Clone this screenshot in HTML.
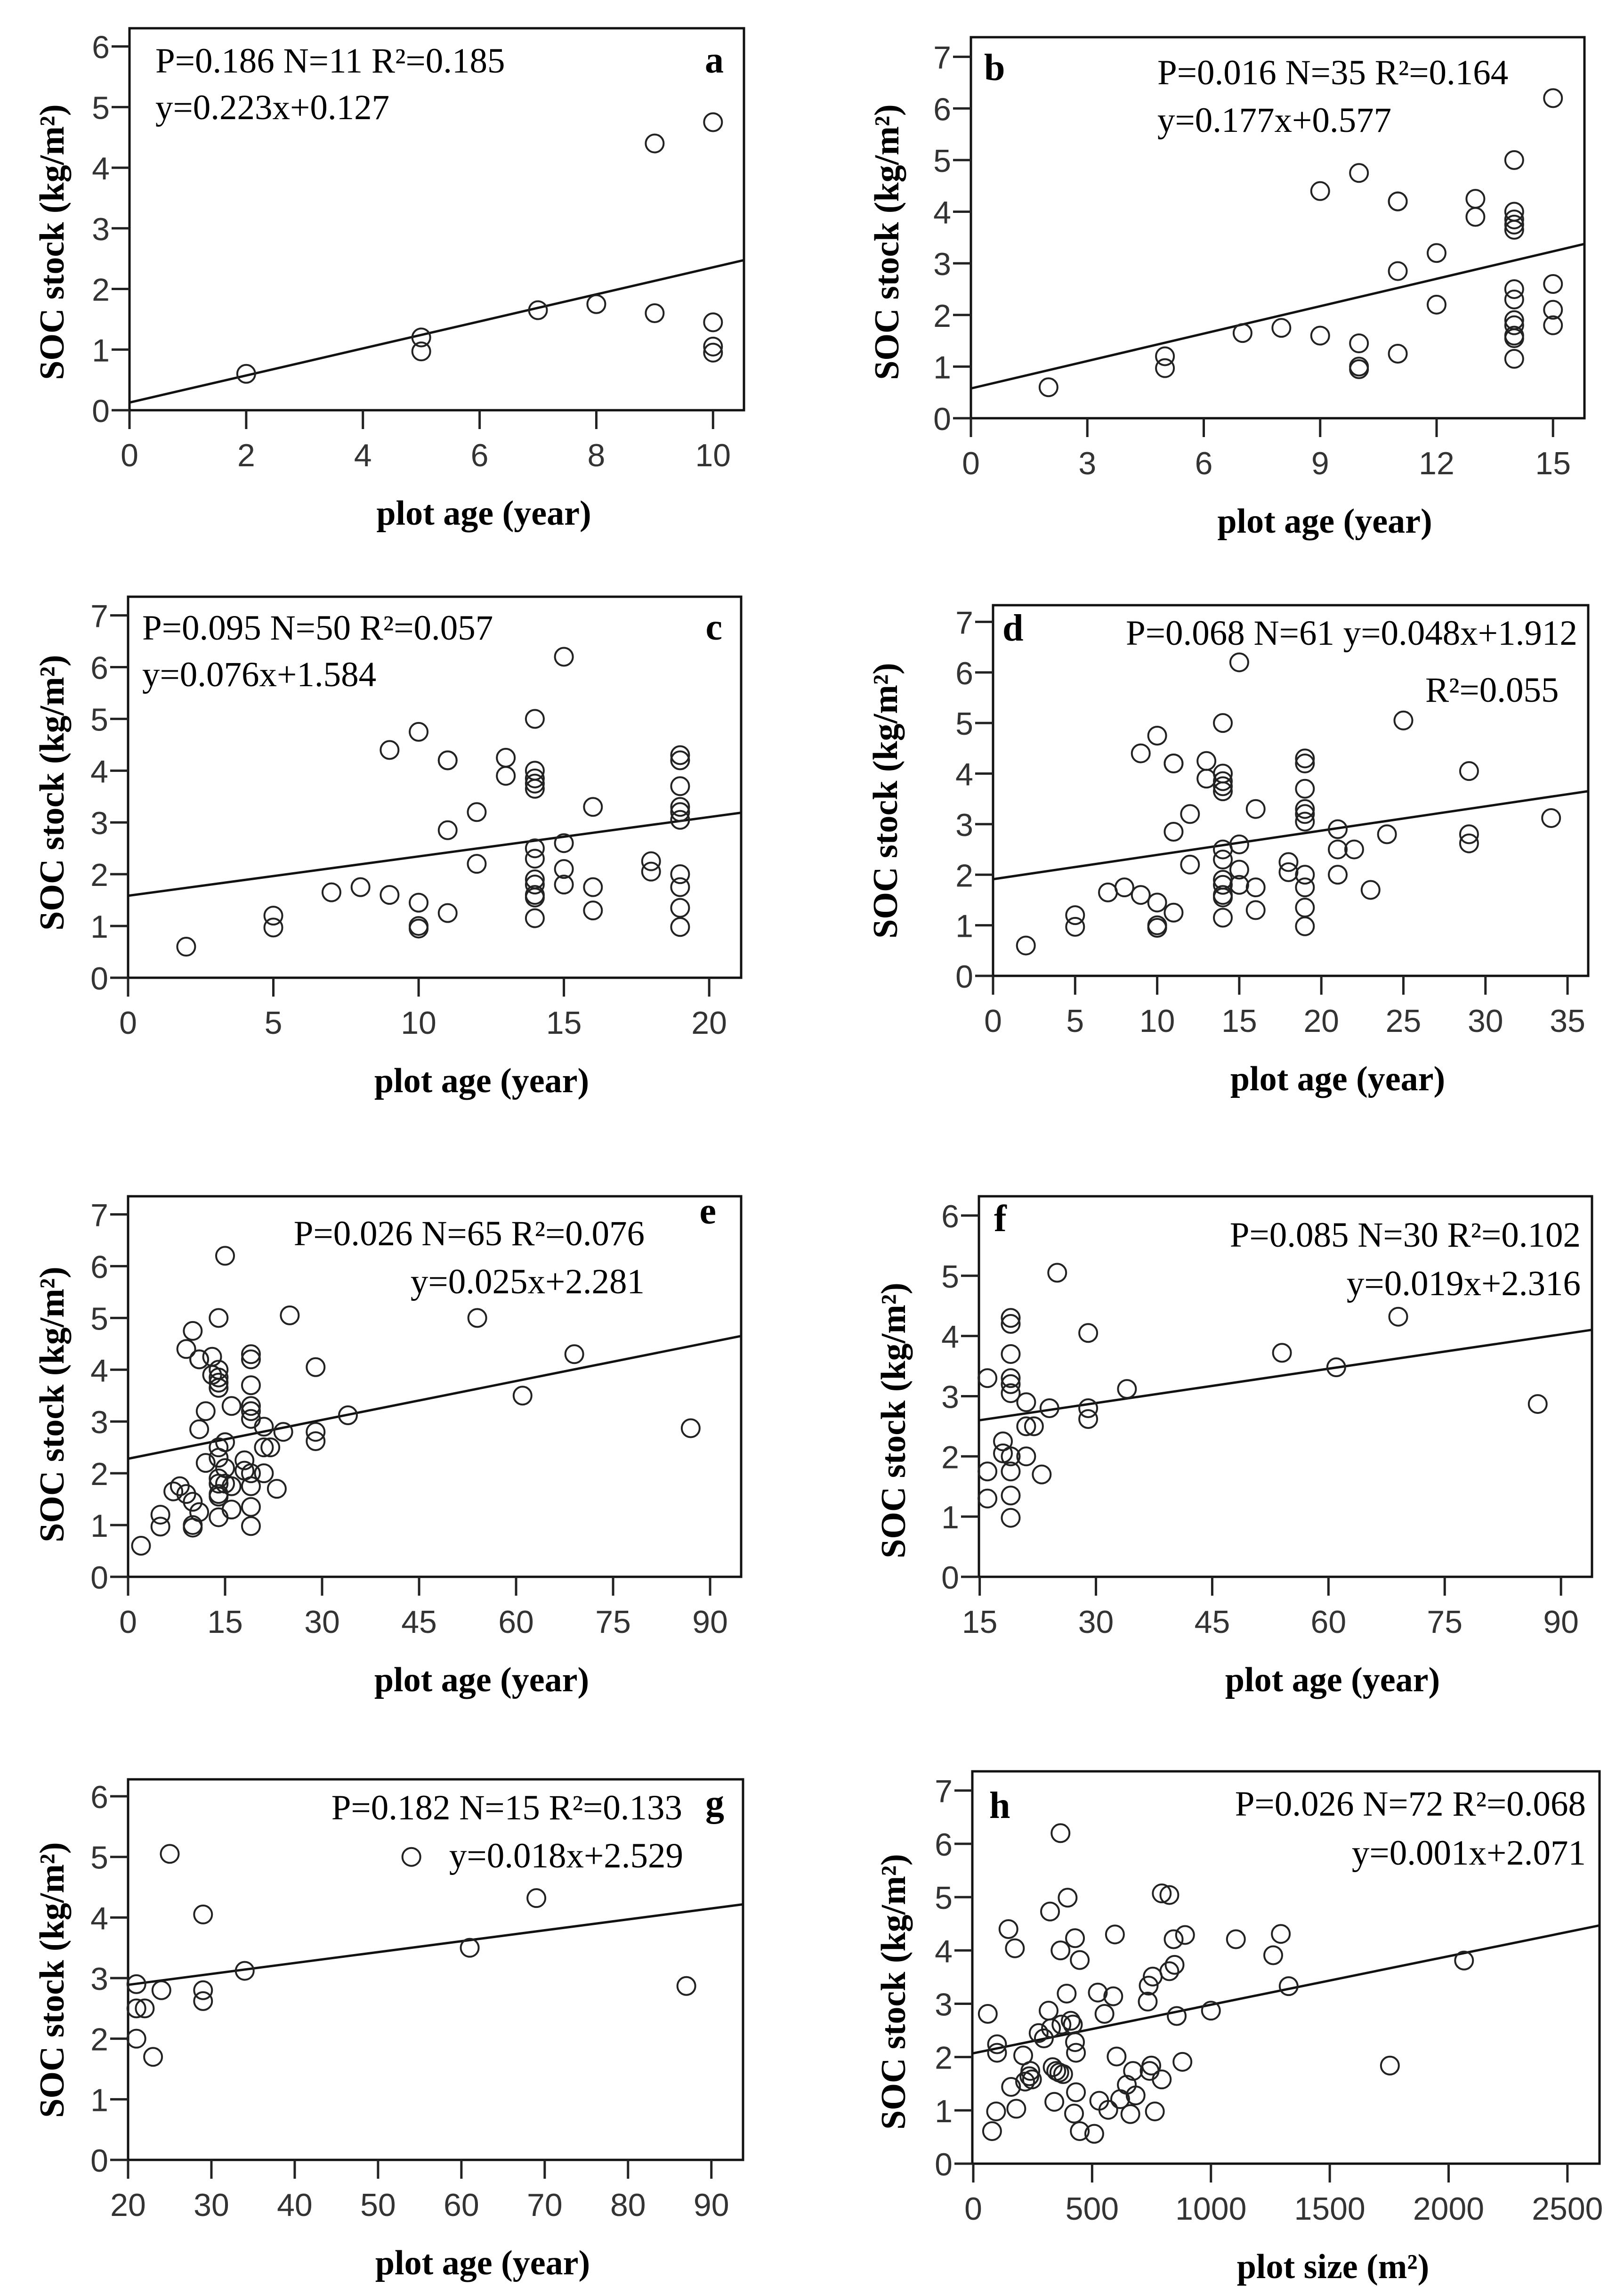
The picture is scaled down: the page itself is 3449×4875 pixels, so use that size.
<!DOCTYPE html>
<html><head><meta charset="utf-8"><title>SOC stock vs plot age and plot size</title>
<style>
html,body{margin:0;padding:0;background:#fff;}
svg{display:block;}
.tick{font-family:"Liberation Sans",sans-serif;font-size:68px;fill:#333;}
.ann{font-family:"Liberation Serif",serif;font-size:75px;fill:#000;}
.lbl{font-family:"Liberation Serif",serif;font-size:80px;font-weight:bold;fill:#000;}
.ttl{font-family:"Liberation Serif",serif;font-size:74px;font-weight:bold;fill:#000;}
</style></head>
<body>
<svg id="fig" xmlns="http://www.w3.org/2000/svg" width="3449" height="4875" viewBox="0 0 3449 4875"></svg>
<script>
// ---------- data ----------
const aAge = [2,5,5,7,8,9,9,10,10,10,10];
const aSoc = [0.6,1.2,0.97,1.65,1.75,4.4,1.6,4.75,1.45,1.05,0.95];

const bAge = [2,5,5,7,8,9,9,10,10,10,10,11,11,11,11,12,12,13,13,14,14,14,14,14,14,14,14,14,14,14,14,15,15,15,15];
const bSoc = [0.6,1.2,0.97,1.65,1.75,4.4,1.6,4.75,1.45,1.0,0.95,4.2,4.2,2.85,1.25,3.2,2.2,4.25,3.9,5.0,4.0,3.85,3.75,3.65,2.5,2.3,1.9,1.8,1.6,1.55,1.15,6.2,2.6,2.1,1.8];

const cAge = [2,5,5,7,8,9,9,10,10,10,10,11,11,11,11,12,12,13,13,14,14,14,14,14,14,14,14,14,14,14,14,15,15,15,15,16,16,16,18,18,19,19,19,19,19,19,19,19,19,19];
const cSoc = [0.6,1.2,0.97,1.65,1.75,4.4,1.6,4.75,1.45,1.0,0.95,4.2,4.2,2.85,1.25,3.2,2.2,4.25,3.9,5.0,4.0,3.85,3.75,3.65,2.5,2.3,1.9,1.8,1.6,1.55,1.15,6.2,2.6,2.1,1.8,3.3,1.75,1.3,2.25,2.05,4.3,4.2,3.7,3.3,3.2,3.05,2.0,1.75,1.35,0.98];

const dAge = [2,5,5,7,8,9,9,10,10,10,10,11,11,11,11,12,12,13,13,14,14,14,14,14,14,14,14,14,14,14,14,15,15,15,15,16,16,16,18,18,19,19,19,19,19,19,19,19,19,19,21,21,21,22,23,24,25,29,29,29,34];
const dSoc = [0.6,1.2,0.97,1.65,1.75,4.4,1.6,4.75,1.45,1.0,0.95,4.2,4.2,2.85,1.25,3.2,2.2,4.25,3.9,5.0,4.0,3.85,3.75,3.65,2.5,2.3,1.9,1.8,1.6,1.55,1.15,6.2,2.6,2.1,1.8,3.3,1.75,1.3,2.25,2.05,4.3,4.2,3.7,3.3,3.2,3.05,2.0,1.75,1.35,0.98,2.9,2.0,2.5,2.5,1.7,2.8,5.05,4.05,2.8,2.62,3.12];

const eAge = dAge.concat([54,61,69,87]);
const eSoc = dSoc.concat([5.0,3.5,4.3,2.87]);

const fAge = [16,16,16,18,18,19,19,19,19,19,19,19,19,19,19,21,21,21,22,23,24,25,29,29,29,34,54,61,69,87];
const fSoc = [3.3,1.75,1.3,2.25,2.05,4.3,4.2,3.7,3.3,3.2,3.05,2.0,1.75,1.35,0.98,2.9,2.0,2.5,2.5,1.7,2.8,5.05,4.05,2.8,2.62,3.12,3.72,3.48,4.32,2.87];

const gAge = [21,21,21,22,23,24,25,29,29,29,34,54,61,69,87];
const gSoc = [2.9,2.5,2.0,2.5,1.7,2.8,5.05,4.05,2.8,2.62,3.12,5.0,3.5,4.32,2.87];

const hSize = [61,79,96,100,100,148,175,159,181,210,218,236,240,247,275,297,317,323,327,334,341,349,362,367,367,371,378,393,397,419,428,428,432,432,424,448,448,509,
  524,530,552,568,589,596,603,618,646,661,672,683,734,738,742,749,755,764,793,793,825,825,847,843,856,880,891,1000,1105,1262,1294,1327,1753,2065,410];
const hSoc = [2.81,0.61,0.98,2.24,2.08,4.40,4.04,1.44,1.03,2.03,1.54,1.64,1.74,1.58,2.45,2.35,2.87,4.73,2.54,1.81,1.16,1.74,1.71,6.20,4.00,2.61,1.68,3.19,4.99,2.61,4.23,2.28,2.08,1.34,0.94,3.82,0.61,0.56,
  3.21,1.18,2.81,1.01,3.14,4.30,2.01,1.21,1.48,0.93,1.74,1.28,3.04,3.34,1.74,1.84,3.51,0.98,1.58,5.07,5.04,3.61,3.73,4.21,2.77,1.91,4.29,2.87,4.21,3.91,4.31,3.33,1.84,3.81,2.68];

const fitSlope = [0.223,0.177,0.076,0.048,0.025,0.019,0.018,0.00091];
const fitIntercept = [0.127,0.577,1.584,1.912,2.281,2.316,2.529,2.071];

const ticksA = [0,2,4,6,8,10];
const ticksB = [0,3,6,9,12,15];
const ticksC = [0,5,10,15,20];
const ticksD = [0,5,10,15,20,25,30,35];
const ticksE = [0,15,30,45,60,75,90];
const ticksF = [15,30,45,60,75,90];
const ticksG = [20,30,40,50,60,70,80,90];
const ticksH = [0,500,1000,1500,2000,2500];
const yTicks6 = [0,1,2,3,4,5,6];
const yTicks7 = [0,1,2,3,4,5,6,7];

// ---------- layout ----------
const panels = [
 {id:'a', x:aAge, y:aSoc, xt:ticksA, yt:yTicks6, L:275,R:1580,T:60,B:871, x0:0,x1:10.53, y1:6.30, ylc:514, ylx:135,
  ann:[["P=0.186 N=11 R²=0.185",330,154,'start'],["y=0.223x+0.127",330,253,'start']], lab:['a',1537,154,'end'], xtitle:'plot age (year)'},
 {id:'b', x:bAge, y:bSoc, xt:ticksB, yt:yTicks7, L:2062,R:3365,T:79,B:888, x0:0,x1:15.81, y1:7.38, ylc:514, ylx:1908,
  ann:[["P=0.016 N=35 R²=0.164",2458,179,'start'],["y=0.177x+0.577",2458,280,'start']], lab:['b',2090,170,'start'], xtitle:'plot age (year)'},
 {id:'c', x:cAge, y:cSoc, xt:ticksC, yt:yTicks7, L:272,R:1574,T:1267,B:2076, x0:0,x1:21.1, y1:7.36, ylc:1683, ylx:135,
  ann:[["P=0.095 N=50 R²=0.057",302,1358,'start'],["y=0.076x+1.584",302,1457,'start']], lab:['c',1534,1358,'end'], xtitle:'plot age (year)'},
 {id:'d', x:dAge, y:dSoc, xt:ticksD, yt:yTicks7, L:2109,R:3373,T:1285,B:2072, x0:0,x1:36.26, y1:7.33, ylc:1700, ylx:1905,
  ann:[["P=0.068 N=61 y=0.048x+1.912",2391,1369,'start'],["R²=0.055",3027,1490,'start']], lab:['d',2129,1360,'start'], xtitle:'plot age (year)'},
 {id:'e', x:eAge, y:eSoc, xt:ticksE, yt:yTicks7, L:272,R:1574,T:2540,B:3348, x0:0,x1:94.8, y1:7.35, ylc:2982, ylx:135,
  ann:[["P=0.026 N=65 R²=0.076",1369,2644,'end'],["y=0.025x+2.281",1369,2746,'end']], lab:['e',1521,2598,'end'], xtitle:'plot age (year)'},
 {id:'f', x:fAge, y:fSoc, xt:ticksF, yt:yTicks6, L:2079,R:3381,T:2540,B:3348, x0:14.9,x1:94.0, y1:6.32, ylc:3016, ylx:1922,
  ann:[["P=0.085 N=30 R²=0.102",3357,2647,'end'],["y=0.019x+2.316",3357,2750,'end']], lab:['f',2111,2614,'start'], xtitle:'plot age (year)'},
 {id:'g', x:gAge, y:gSoc, xt:ticksG, yt:yTicks6, L:272,R:1578,T:3778,B:4586, x0:20,x1:93.8, y1:6.28, ylc:4204, ylx:135,
  ann:[["P=0.182 N=15 R²=0.133",1449,3863,'end'],["y=0.018x+2.529",1451,3965,'end']], lab:['g',1498,3855,'start'], xtitle:'plot age (year)'},
 {id:'h', x:hSize, y:hSoc, xt:ticksH, yt:yTicks7, L:2065,R:3397,T:3761,B:4594, x0:-4,x1:2635, y1:7.36, ylc:4229, ylx:1922,
  ann:[["P=0.026 N=72 R²=0.068",3368,3855,'end'],["y=0.001x+2.071",3368,3959,'end']], lab:['h',2101,3860,'start'], xtitle:'plot size (m²)'}
];

const NS = 'http://www.w3.org/2000/svg';
const fig = document.getElementById('fig');
function mk(tag, attrs, parent){
  const el = document.createElementNS(NS, tag);
  for (const k in attrs) el.setAttribute(k, attrs[k]);
  parent.appendChild(el);
  return el;
}

panels.forEach((p, i) => {
  const g = mk('g', {}, fig);
  
  
  const sx = v => p.L + (v - p.x0) / (p.x1 - p.x0) * (p.R - p.L);
  const sy = v => p.B - v / p.y1 * (p.B - p.T);

  const frame = mk('rect', {x:p.L, y:p.T, width:p.R-p.L, height:p.B-p.T, fill:'none', stroke:'#111', 'stroke-width':5}, g);
  
  

  p.yt.forEach(v => {
    const y = sy(v);
    const t = mk('line', {x1:p.L-38, x2:p.L, y1:y, y2:y, stroke:'#222', 'stroke-width':5}, g);
    
    
    const tx = mk('text', {x:p.L-42, y:y+25, 'text-anchor':'end', class:'tick'}, g);
    tx.textContent = v;
    
    
  });
  p.xt.forEach(v => {
    const x = sx(v);
    const t = mk('line', {x1:x, x2:x, y1:p.B, y2:p.B+40, stroke:'#222', 'stroke-width':5}, g);
    
    
    const tx = mk('text', {x:x, y:p.B+119, 'text-anchor':'middle', class:'tick'}, g);
    tx.textContent = v;
    
    
  });

  // regression line
  const fx0 = Math.max(p.x0, 0), fx1 = p.x1;
  const ln = mk('line', {x1:sx(fx0), y1:sy(fitSlope[i]*fx0+fitIntercept[i]), x2:sx(fx1), y2:sy(fitSlope[i]*fx1+fitIntercept[i]), stroke:'#111', 'stroke-width':5}, g);
  
  

  // points
  p.x.forEach((xv, k) => {
    const c = mk('circle', {cx:sx(xv), cy:sy(p.y[k]), r:19, fill:'none', stroke:'#222', 'stroke-width':4}, g);
    
    
  });

  // annotations
  p.ann.forEach(a => {
    const t = mk('text', {x:a[1], y:a[2], 'text-anchor':a[3], class:'ann'}, g);
    t.textContent = a[0];
    
    
  });
  const lb = mk('text', {x:p.lab[1], y:p.lab[2], 'text-anchor':p.lab[3], class:'lbl'}, g);
  lb.textContent = p.lab[0];
  
  

  // axis titles
  const xt = mk('text', {x:(p.L+p.R)/2+100, y:p.B+243, 'text-anchor':'middle', class:'ttl'}, g);
  xt.textContent = p.xtitle;
  
  
  const yt = mk('text', {x:0, y:0, 'text-anchor':'middle', class:'ttl', transform:'translate(' + p.ylx + ',' + p.ylc + ') rotate(-90)'}, g);
  yt.textContent = 'SOC stock (kg/m²)';
  
  
});
</script>
</body></html>
